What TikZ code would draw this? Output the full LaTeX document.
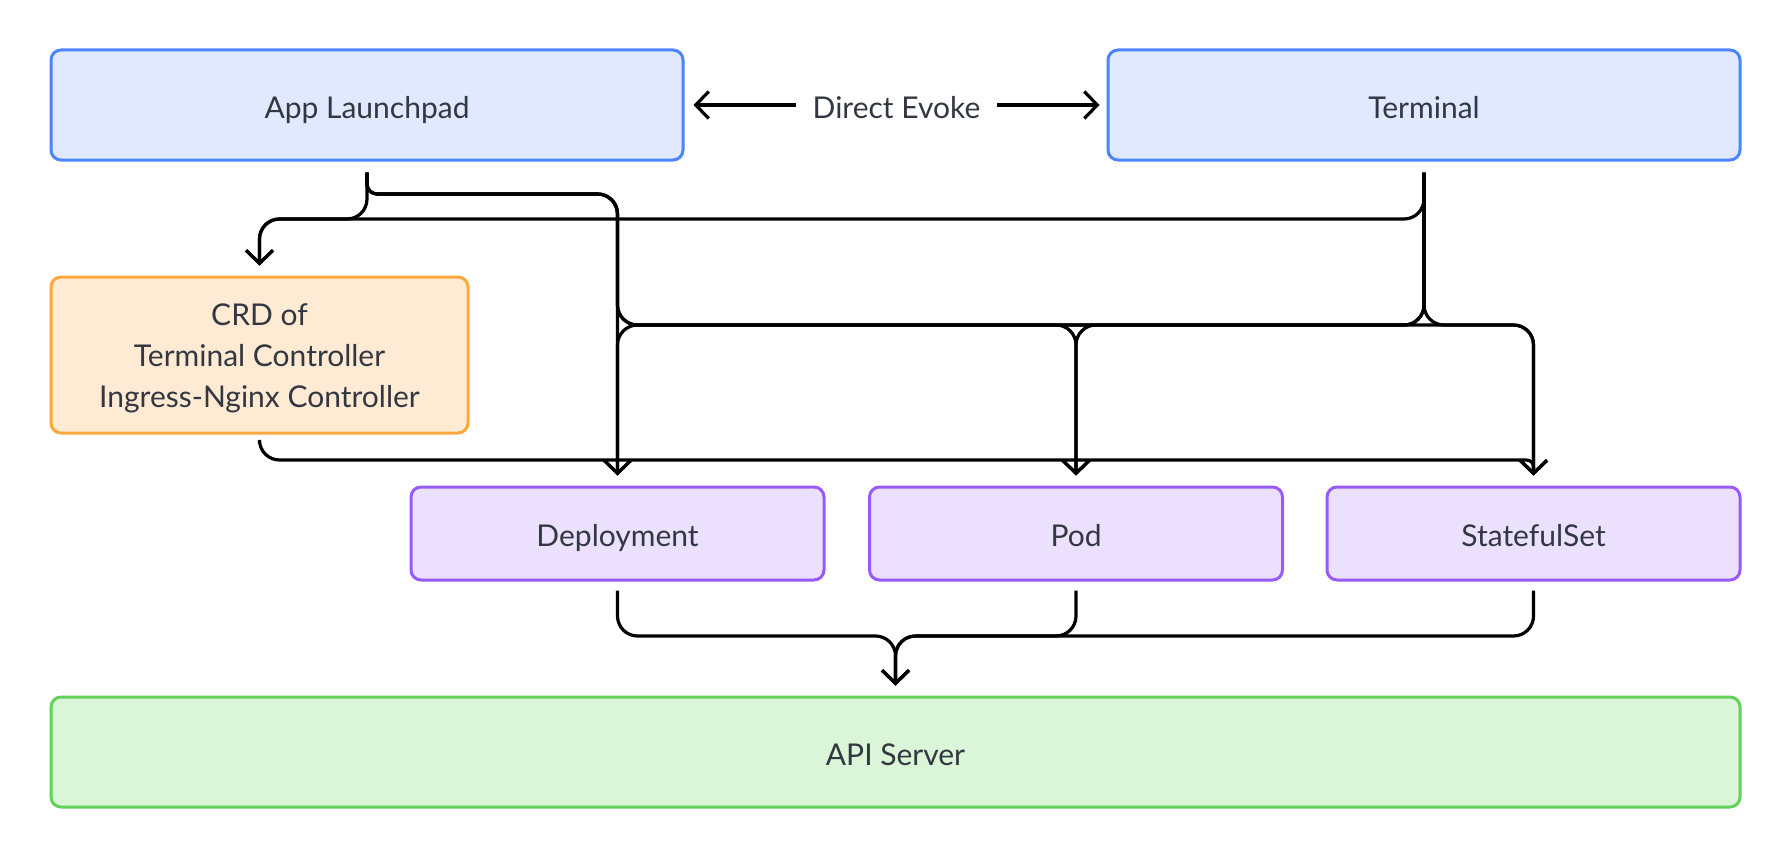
\documentclass[tikz,border=0pt]{standalone}
\usepackage{fontspec}
\setmainfont{Lato}
\usetikzlibrary{arrows.meta}
\definecolor{txt}{RGB}{50,55,65}
\definecolor{blueB}{RGB}{77,133,255}
\definecolor{blueF}{RGB}{224,233,255}
\definecolor{orB}{RGB}{255,168,64}
\definecolor{orF}{RGB}{255,234,211}
\definecolor{puB}{RGB}{152,90,250}
\definecolor{puF}{RGB}{235,225,254}
\definecolor{grB}{RGB}{99,210,90}
\definecolor{grF}{RGB}{218,245,215}
\begin{document}
\begin{tikzpicture}[x=1pt,y=-1pt,
  box/.style={draw, line width=3pt, rounded corners=10pt, inner sep=0pt,
    text=txt, font=\fontsize{30}{40.7}\selectfont, align=center},
  oneline/.style={text height=31pt, text depth=5pt},
  bluebox/.style={box, oneline, draw=blueB, fill=blueF, minimum width=632pt, minimum height=110pt},
  orbox/.style={box, draw=orB, fill=orF, minimum width=417pt, minimum height=156pt,
    text height=109pt, text depth=5pt},
  pubox/.style={box, oneline, draw=puB, fill=puF, minimum width=413pt, minimum height=93pt},
  grbox/.style={box, oneline, draw=grB, fill=grF, minimum width=1689pt, minimum height=110pt},
  conn/.style={draw=black, line width=3.2pt, rounded corners=20pt,
    -{Straight Barb[length=13pt,width=27pt]}},
  lbl/.style={fill=white, text=txt, font=\fontsize{30}{36}\selectfont, oneline,
    inner xsep=17pt, inner ysep=0pt}
]
\useasboundingbox (0,0) rectangle (1790,856);
\fill[white] (0,0) rectangle (1790,856);

\node[bluebox] (launch) at (367,105) {App Launchpad};
\node[bluebox] (term) at (1424,105) {Terminal};
\node[orbox] (crd) at (259.5,355) {CRD of\\Terminal Controller\\Ingress-Nginx Controller};
\node[pubox] (dep) at (617.5,533.5) {Deployment};
\node[pubox] (pod) at (1076,533.5) {Pod};
\node[pubox] (sts) at (1533.5,533.5) {StatefulSet};
\node[grbox] (api) at (895.5,752) {API Server};

% levels
\coordinate (yA) at (0,194);
\coordinate (yB) at (0,219);
\coordinate (yC) at (0,325);
\coordinate (yD) at (0,460);
\coordinate (yE) at (0,636);

% start and end points
\coordinate (L0) at ([yshift=-11pt]launch.south);
\coordinate (T0) at ([yshift=-11pt]term.south);
\coordinate (C0) at ([yshift=-9pt]crd.south);
\coordinate (D0) at ([yshift=-9pt]dep.south);
\coordinate (P0) at ([yshift=-9pt]pod.south);
\coordinate (S0) at ([yshift=-9pt]sts.south);
\coordinate (crdin) at ([yshift=10pt]crd.north);
\coordinate (depin) at ([yshift=10pt]dep.north);
\coordinate (podin) at ([yshift=10pt]pod.north);
\coordinate (stsin) at ([yshift=10pt]sts.north);
\coordinate (apiin) at ([yshift=10pt]api.north);

% Direct Evoke
\draw[line width=3.2pt, {Straight Barb[length=13pt,width=27pt]}-{Straight Barb[length=13pt,width=27pt]}]
  ([xshift=9pt]launch.east) -- node[lbl] (de) {Direct Evoke} ([xshift=-7pt]term.west);

% to CRD
\draw[conn] (L0) -- (L0 |- yB) -| (crdin);
\draw[conn] (T0) -- (T0 |- yB) -| (crdin);

% App Launchpad to workloads
\draw[conn, rounded corners=10pt] (L0) -- (L0 |- yA) [rounded corners=20pt] -| (depin);
\draw[conn, rounded corners=10pt] (L0) -- (L0 |- yA) [rounded corners=20pt] -- (depin |- yA) -- (depin |- yC) -| (podin);
\draw[conn, rounded corners=10pt] (L0) -- (L0 |- yA) [rounded corners=20pt] -- (depin |- yA) -- (depin |- yC) -| (stsin);

% Terminal to workloads
\draw[conn] (T0) -- (T0 |- yC) -| (depin);
\draw[conn] (T0) -- (T0 |- yC) -| (podin);
\draw[conn] (T0) -- (T0 |- yC) -| (stsin);

% CRD to workloads
\draw[conn] (C0) -- (C0 |- yD) [rounded corners=7pt] -| (stsin);

% workloads to API server
\draw[conn] (D0) -- (D0 |- yE) -| (apiin);
\draw[conn] (P0) -- (P0 |- yE) -| (apiin);
\draw[conn] (S0) -- (S0 |- yE) -| (apiin);
\end{tikzpicture}
\end{document}
